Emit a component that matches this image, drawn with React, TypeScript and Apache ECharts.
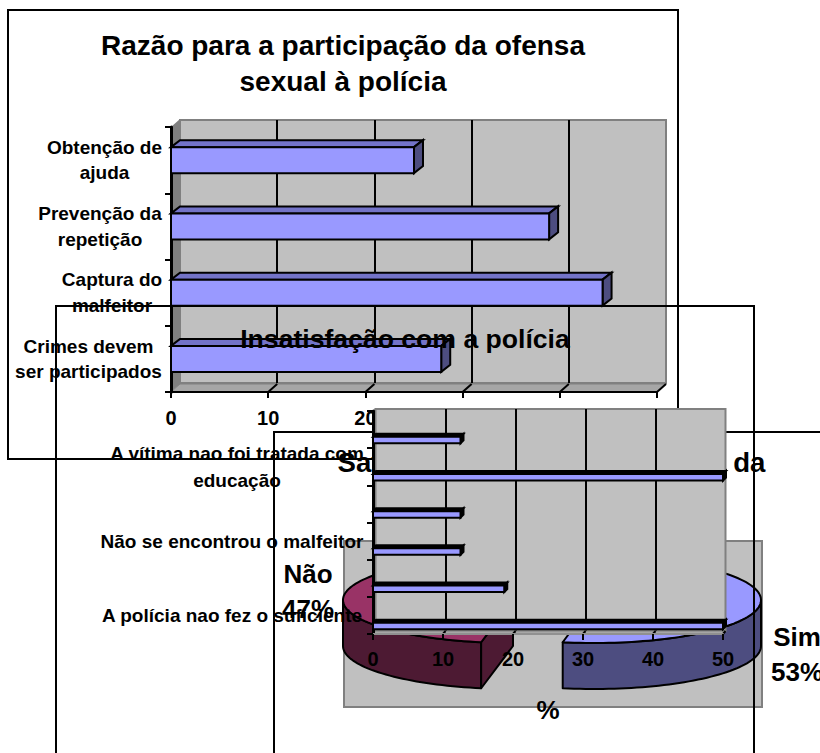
import React, { useEffect, useRef } from "react";
import * as echarts from "echarts";

const FONT = "Liberation Sans";

// Chart 1: Razão para a participação
const reasonTitle = "Razão para a participação da ofensa\nsexual à polícia";
const reasonCategories = ["Obtenção de\najuda", "Prevenção da\nrepetição", "Captura do\nmalfeitor", "Crimes devem\nser participados"];
const reasonValues = [25, 38.9, 44.4, 27.8];
const reasonLabelWidths = [115, 124, 100, 147];

// Chart 2: Insatisfação (bottom to top)
const dissatisfactionTitle = "Insatisfação com a polícia";
const dissatisfactionCategories = ["A polícia nao fez o suficiente", "", "Não se encontrou o malfeitor", "", "A vítima nao foi tratada com\neducação", ""];
const dissatisfactionValues = [50, 18.75, 12.5, 12.5, 50, 12.5];
const dissatisfactionLabelWidths = [262, 0, 262, 0, 252, 0];
const dissatisfactionAxisName = "%";

// Chart 3: Satisfação (pie)
const satisfactionTitle = "Satisfação com a intervenção da\npolícia";
const satisfactionNames = ["Sim", "Não"];
const satisfactionValues = [53, 47];

const valueTicks = [0, 10, 20, 30, 40, 50];

const BAR_FRONT = "#9999FF";
const BAR_TOP = "#7373C8";
const BAR_SIDE = "#4D4D80";

type Bar3D = { h: number; dx: number; dy: number; shift: number; lw: number; top: string; side: string };

function barRenderer(b: Bar3D) {
  return (_p: any, api: any) => {
    const v = api.value(0);
    const idx = api.value(1);
    const a = api.coord([0, idx]);
    const c = api.coord([v, idx]);
    const x0 = a[0];
    const x1 = c[0];
    const t = a[1] + b.shift - b.h / 2;
    const bt = t + b.h;
    const line = { stroke: "#000", lineWidth: b.lw, lineJoin: "miter" };
    return {
      type: "group",
      children: [
        { type: "polygon", shape: { points: [[x0, t], [x0 + b.dx, t + b.dy], [x1 + b.dx, t + b.dy], [x1, t]] }, style: { fill: b.top, ...line } },
        { type: "polygon", shape: { points: [[x1, t], [x1 + b.dx, t + b.dy], [x1 + b.dx, bt + b.dy], [x1, bt]] }, style: { fill: b.side, ...line } },
        { type: "rect", shape: { x: x0, y: t, width: x1 - x0, height: b.h }, style: { fill: BAR_FRONT, ...line } },
      ],
    };
  };
}

function wallRenderer(dx: number, dy: number, floorColor: string) {
  return (p: any, api: any) => {
    const s = p.coordSys;
    const l = s.x;
    const r = s.x + s.width;
    const t = s.y;
    const b = s.y + s.height;
    const v = api.value(0);
    const x = api.coord([v, 0])[0];
    const kids: any[] = [];
    if (p.dataIndex === 0) {
      kids.push({ type: "polygon", shape: { points: [[l, t], [l + dx, t + dy], [l + dx, b + dy], [l, b]] }, style: { fill: "#808080" } });
      kids.push({ type: "polygon", shape: { points: [[l, b], [l + dx, b + dy], [r + dx, b + dy], [r, b]] }, style: { fill: floorColor, stroke: "#808080", lineWidth: 1 } });
    }
    if (v > 0) {
      kids.push({ type: "line", shape: { x1: x, y1: b, x2: x + dx, y2: b + dy }, style: { stroke: "#000", lineWidth: 2 } });
    }
    return { type: "group", children: kids };
  };
}

const PIE_CENTERS = [[594, 600], [513, 600]];
const PIE_RADII = [[167, 43], [170, 43]];
const PIE_DEPTH = 46;
const PIE_TOP = ["#9999FF", "#993366"];
const PIE_SIDE = ["#4D4D80", "#4D1A33"];
const PIE_LABEL_AT = [[797, 654], [308, 591]];

function pieRenderer(p: any, api: any) {
  const i = p.dataIndex;
  const total = satisfactionValues.reduce((a, b) => a + b, 0);
  let start = -90;
  for (let k = 0; k < i; k++) start += (satisfactionValues[k] / total) * 360;
  const end = start + (api.value(0) / total) * 360;
  const [cx, cy] = PIE_CENTERS[i];
  const [rx, ry] = PIE_RADII[i];
  const pt = (deg: number, off = 0) => [cx + rx * Math.cos((deg * Math.PI) / 180), cy + ry * Math.sin((deg * Math.PI) / 180) + off];
  const arc = (a: number, b: number, off = 0) => {
    const out: number[][] = [];
    const n = Math.max(2, Math.ceil(Math.abs(b - a) / 2));
    for (let k = 0; k <= n; k++) out.push(pt(a + ((b - a) * k) / n, off));
    return out;
  };
  const line = { stroke: "#000", lineWidth: 2, lineJoin: "round" };
  const kids: any[] = [];
  const a0 = Math.max(start, 0);
  const a1 = Math.min(end, 180);
  if (a1 > a0) {
    kids.push({ type: "polygon", shape: { points: [...arc(a0, a1), ...arc(a1, a0, PIE_DEPTH)] }, style: { fill: PIE_SIDE[i], ...line } });
  }
  if (-Math.cos((start * Math.PI) / 180) > 0.01) {
    const e = pt(start);
    kids.push({ type: "polygon", shape: { points: [e, [cx, cy], [cx, cy + PIE_DEPTH], [e[0], e[1] + PIE_DEPTH]] }, style: { fill: PIE_SIDE[i], ...line } });
  }
  kids.push({ type: "polygon", shape: { points: [[cx, cy], ...arc(start, end)] }, style: { fill: PIE_TOP[i], ...line } });
  kids.push({
    type: "text",
    x: PIE_LABEL_AT[i][0],
    y: PIE_LABEL_AT[i][1],
    style: {
      text: `${satisfactionNames[i]}\n${api.value(0)}%`,
      fontFamily: FONT, fontSize: 26, fontWeight: "bold", fill: "#000",
      lineHeight: 35, textAlign: "center", textVerticalAlign: "middle",
    },
  });
  return { type: "group", children: kids };
}

function richFor(cats: string[], widths: number[], lh: number) {
  const rich: any = {};
  cats.forEach((_, i) => {
    if (widths[i]) rich[`c${i}`] = { width: widths[i], align: "center", fontFamily: FONT, fontSize: 19, fontWeight: "bold", color: "#000", lineHeight: lh };
  });
  return rich;
}
function fmtFor(cats: string[]) {
  return (v: string, i: number) => (v ? v.split("\n").map((l) => `{c${i}|${l}}`).join("\n") : "");
}

function backX(gi: number, z: number) {
  return {
    gridIndex: gi, type: "value", min: 0, max: 50, interval: 10, z,
    axisLine: { show: false }, axisTick: { show: false }, axisLabel: { show: false },
    splitLine: { show: true, showMinLine: false, showMaxLine: false, lineStyle: { color: "#000", width: 2 } },
  };
}
function backY(gi: number, z: number) {
  return { gridIndex: gi, type: "value", min: 0, max: 1, z, axisLine: { show: false }, axisTick: { show: false }, axisLabel: { show: false }, splitLine: { show: false } };
}
function frontX(gi: number, z: number, lineColor: string, margin: number, extra: any = {}) {
  return {
    gridIndex: gi, type: "value", min: 0, max: 50, interval: 10, z,
    axisLine: { show: true, onZero: false, lineStyle: { color: lineColor, width: 2 } },
    axisTick: { show: true, length: 6, lineStyle: { color: "#000", width: 2 } },
    axisLabel: { fontFamily: FONT, fontSize: 20, fontWeight: "bold", color: "#000", margin },
    splitLine: { show: false },
    ...extra,
  };
}
function frontY(gi: number, z: number, cats: string[], widths: number[], inverse: boolean, margin: number, lh: number) {
  return {
    gridIndex: gi, type: "category", data: cats, inverse, z,
    axisLine: { show: true, lineStyle: { color: "#000", width: 3 } },
    axisTick: { show: true, length: 6, lineStyle: { color: "#000", width: 2 } },
    axisLabel: { interval: 0, margin, formatter: fmtFor(cats), rich: richFor(cats, widths, lh) },
    splitLine: { show: false },
  };
}

function buildOption() {
  const frame = (x: number, y: number, w: number, h: number, z: number, fill: string) => ({
    type: "rect", z, silent: true, shape: { x, y, width: w, height: h }, style: { fill, stroke: "#000", lineWidth: 2 },
  });
  return {
    animation: false,
    backgroundColor: "transparent",
    title: [
      { text: reasonTitle, left: 343, top: 27, textAlign: "center", padding: 0, z: 5, textStyle: { fontFamily: FONT, fontSize: 28, fontWeight: "bold", color: "#000", lineHeight: 36 } },
      { text: satisfactionTitle, left: 551.5, top: 444, textAlign: "center", padding: 0, z: 11, textStyle: { fontFamily: FONT, fontSize: 27.6, fontWeight: "bold", color: "#000", lineHeight: 36 } },
      { text: dissatisfactionTitle, left: 405, top: 324, textAlign: "center", padding: 0, z: 26, textStyle: { fontFamily: FONT, fontSize: 26.6, fontWeight: "bold", color: "#000", lineHeight: 30 } },
    ],
    graphic: {
      elements: [
        frame(8, 10, 670, 449, 0, "#fff"),
        frame(274, 432, 700, 500, 9, "transparent"),
        { type: "rect", z: 10, silent: true, shape: { x: 344, y: 541, width: 418, height: 166 }, style: { fill: "#C0C0C0", stroke: "#808080", lineWidth: 2 } },
        frame(56, 306, 698, 600, 19, "transparent"),
      ],
    },
    grid: [
      { left: 180, top: 120, width: 486, height: 263, show: true, z: 1, backgroundColor: "#C0C0C0", borderColor: "#808080", borderWidth: 2 },
      { left: 171, top: 127, width: 486, height: 265, z: 3 },
      { left: 375.5, top: 409, width: 350, height: 222, show: true, z: 20, backgroundColor: "#C0C0C0", borderColor: "#808080", borderWidth: 2 },
      { left: 373, top: 411, width: 350, height: 223, z: 22 },
    ],
    xAxis: [
      backX(0, 1),
      frontX(1, 3, "#000", 16),
      backX(2, 20),
      frontX(3, 22, "#909090", 15, {
        name: dissatisfactionAxisName, nameLocation: "middle", nameGap: 63,
        nameTextStyle: { fontFamily: FONT, fontSize: 26, fontWeight: "bold", color: "#000" },
      }),
    ],
    yAxis: [
      backY(0, 1),
      frontY(1, 3, reasonCategories, reasonLabelWidths, true, 9, 25.5),
      backY(2, 20),
      frontY(3, 22, dissatisfactionCategories, dissatisfactionLabelWidths, false, 10, 27),
    ],
    series: [
      {
        type: "custom", name: "walls1", xAxisIndex: 1, yAxisIndex: 1, z: 2, silent: true,
        data: valueTicks.map((t) => [t, 0]), encode: { x: 0, y: 1 },
        renderItem: wallRenderer(9, -8, "#A6A6A6"),
      },
      {
        type: "custom", name: "Razão", xAxisIndex: 1, yAxisIndex: 1, z: 4, silent: true,
        data: reasonValues.map((v, i) => [v, i]), encode: { x: 0, y: 1 },
        renderItem: barRenderer({ h: 26, dx: 9, dy: -7, shift: 0, lw: 2, top: BAR_TOP, side: BAR_SIDE }),
      },
      {
        type: "custom", name: "Satisfação", coordinateSystem: "none", z: 12, silent: true,
        data: satisfactionValues.map((v) => [v]),
        renderItem: pieRenderer,
      },
      {
        type: "custom", name: "walls2", xAxisIndex: 3, yAxisIndex: 3, z: 21, silent: true,
        data: valueTicks.map((t) => [t, 0]), encode: { x: 0, y: 1 },
        renderItem: wallRenderer(2.5, -3, "#A6A6A6"),
      },
      {
        type: "custom", name: "Insatisfação", xAxisIndex: 3, yAxisIndex: 3, z: 24, silent: true,
        data: dissatisfactionValues.map((v, i) => [v, i]), encode: { x: 0, y: 1 },
        renderItem: barRenderer({ h: 6.5, dx: 3, dy: -3, shift: 10.5, lw: 2, top: "#000", side: "#000" }),
      },
    ],
  };
}

export default function App() {
  const ref = useRef<HTMLDivElement>(null);
  useEffect(() => {
    const chart = echarts.init(ref.current!, undefined, { renderer: "svg" });
    chart.setOption(buildOption() as any);
    return () => chart.dispose();
  }, []);
  return <div ref={ref} style={{ position: "absolute", left: 0, top: 0, width: 820, height: 753, overflow: "hidden" }} />;
}
